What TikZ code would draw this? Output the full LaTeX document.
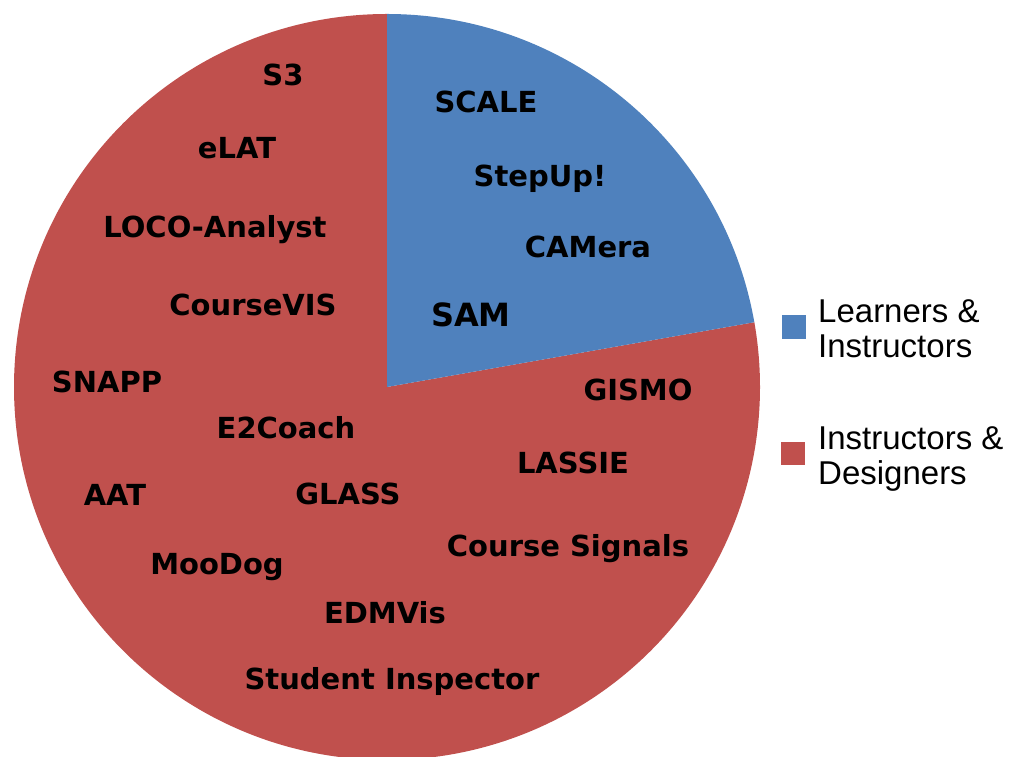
\documentclass[tikz,border=0pt]{standalone}
\usepackage{fontspec}
\setmainfont{DejaVu Sans}
\newfontfamily\legendfont{Liberation Sans}
\definecolor{pieblue}{HTML}{4F81BD}
\definecolor{piered}{HTML}{C0504D}

\begin{document}
\begin{tikzpicture}[x=1pt, y=1pt,
      tool/.style={font=\fontsize{29}{34}\selectfont\bfseries, inner sep=0pt, anchor=base},
      key/.style={font=\legendfont\fontsize{33}{38}\selectfont, inner sep=0pt, anchor=base west}]
            \useasboundingbox (0,0) rectangle (1018,757); % keeps the page the size of the picture

            \fill[piered] (387,370) -- (387,743) arc[start angle=90, end angle=370, radius=373] -- cycle; % the large red slice
            \fill[pieblue] (387,370) -- ++(10:373) arc[start angle=10, end angle=90, radius=373] -- cycle; % the blue slice on the upper right

                  \node[tool] (scale) at (486,644) {SCALE}; % names in the blue slice
                  \node[tool] (stepup) at (540,570) {StepUp!};
                  \node[tool] (camera) at (588,499) {CAMera};
                  \node[tool, font=\fontsize{32}{36}\selectfont\bfseries] (sam) at (471,430) {SAM};

                  \node[tool] (s3) at (283,671) {S3}; % names in the red slice
                  \node[tool] (elat) at (237,598) {eLAT};
                  \node[tool] (loco) at (215,519) {LOCO-Analyst};
                  \node[tool] (coursevis) at (253,441) {CourseVIS};
                  \node[tool] (snapp) at (107,364) {SNAPP};
                  \node[tool] (gismo) at (638,356) {GISMO};
                  \node[tool] (e2coach) at (286,318) {E2Coach};
                  \node[tool] (lassie) at (573,283) {LASSIE};
                  \node[tool] (aat) at (115,251) {AAT};
                  \node[tool] (glass) at (348,252) {GLASS};
                  \node[tool] (signals) at (568,200) {Course Signals};
                  \node[tool] (moodog) at (217,182) {MooDog};
                  \node[tool] (edmvis) at (385,133) {EDMVis};
                  \node[tool] (inspector) at (392,67) {Student Inspector};

            \fill[pieblue] (782,418) rectangle (806,442); % legend
                  \node[key] (learners) at (818,434) {Learners \&};
                  \node[key] (instructorsa) at (818,399) {Instructors};
            \fill[piered] (781,292) rectangle (805,315);
                  \node[key] (instructorsb) at (818,307) {Instructors \&};
                  \node[key] (designers) at (818,272) {Designers};
      \end{tikzpicture}
\end{document}
